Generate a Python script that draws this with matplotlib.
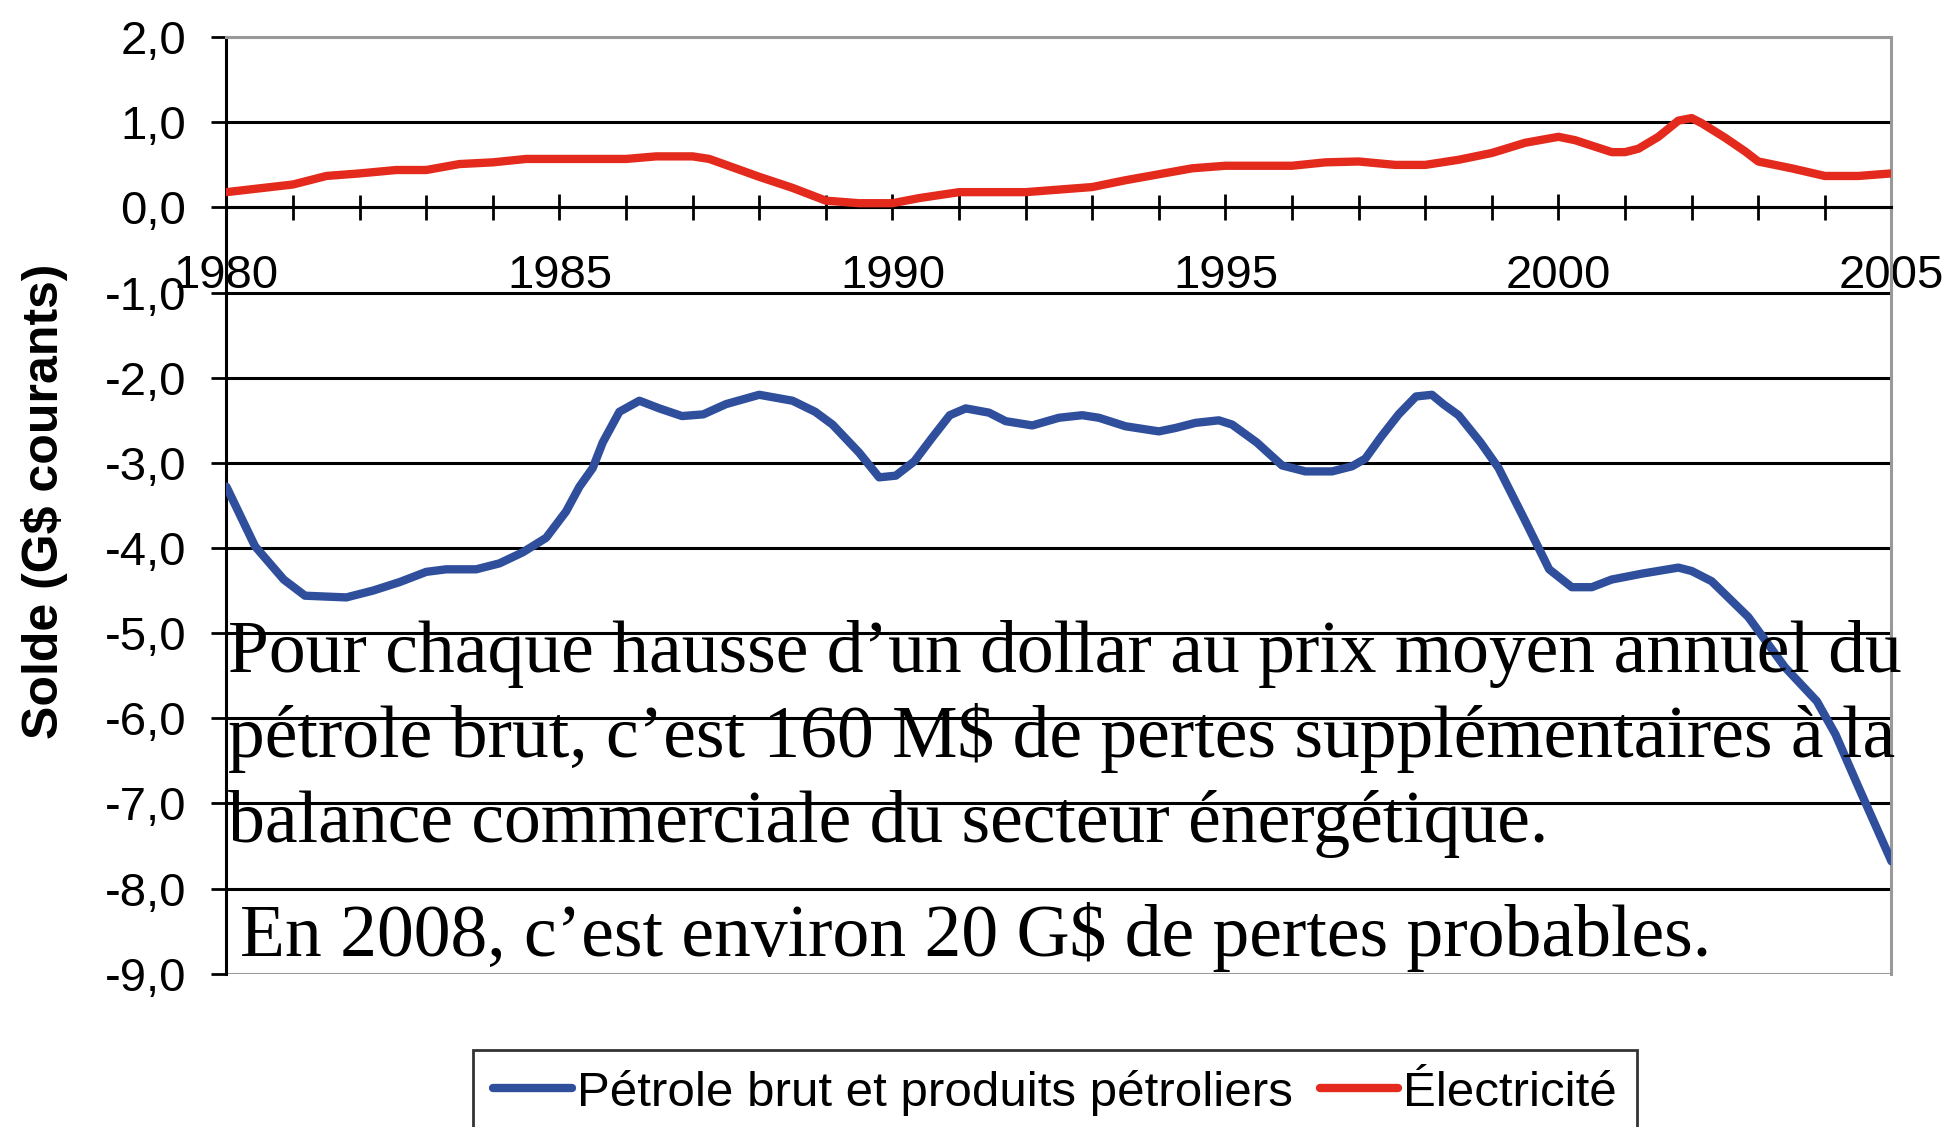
import numpy as np
import matplotlib
matplotlib.use('Agg')
import matplotlib.pyplot as plt
from matplotlib.ticker import MultipleLocator, FuncFormatter

# Solde commercial (G$ courants)
annees_petrole = [1980.0, 1980.43, 1980.86, 1981.18, 1981.8, 1982.2, 1982.6, 1983.0, 1983.3,
                  1983.75, 1984.1, 1984.45, 1984.8, 1985.1, 1985.3, 1985.5, 1985.65, 1985.9,
                  1986.2, 1986.5, 1986.84, 1987.16, 1987.5, 1988.0, 1988.5, 1988.84, 1989.1,
                  1989.5, 1989.8, 1990.05, 1990.33, 1990.6, 1990.86, 1991.1, 1991.45, 1991.7,
                  1992.1, 1992.5, 1992.85, 1993.1, 1993.5, 1994.0, 1994.25, 1994.55, 1994.9,
                  1995.1, 1995.47, 1995.85, 1996.2, 1996.6, 1996.9, 1997.1, 1997.34, 1997.6,
                  1997.86, 1998.1, 1998.27, 1998.5, 1998.83, 1999.1, 1999.5, 1999.86, 2000.2,
                  2000.5, 2000.8, 2001.26, 2001.8, 2002.0, 2002.3, 2002.85, 2003.4, 2003.88,
                  2004.16, 2004.5, 2005.0]
petrole = [-3.28, -3.98, -4.37, -4.56, -4.58, -4.50, -4.40, -4.28, -4.25,
           -4.25, -4.18, -4.05, -3.88, -3.57, -3.28, -3.06, -2.76, -2.40,
           -2.27, -2.36, -2.45, -2.43, -2.31, -2.20, -2.27, -2.40, -2.55,
           -2.88, -3.17, -3.15, -2.98, -2.70, -2.44, -2.36, -2.41, -2.51,
           -2.56, -2.47, -2.44, -2.47, -2.57, -2.63, -2.59, -2.53, -2.50,
           -2.55, -2.76, -3.03, -3.10, -3.10, -3.04, -2.95, -2.69, -2.43,
           -2.22, -2.20, -2.31, -2.44, -2.76, -3.06, -3.68, -4.25, -4.46,
           -4.46, -4.37, -4.30, -4.23, -4.27, -4.39, -4.81, -5.40, -5.80,
           -6.19, -6.80, -7.68]

annees_elec = [1980.0, 1981.0, 1981.5, 1982.0, 1982.55, 1983.0, 1983.5, 1984.0, 1984.5,
               1985.0, 1986.0, 1986.45, 1987.0, 1987.25, 1988.0, 1988.5, 1989.0, 1989.5,
               1990.0, 1990.4, 1991.0, 1992.0, 1993.0, 1993.5, 1994.0, 1994.5, 1995.0,
               1996.0, 1996.5, 1997.0, 1997.55, 1998.0, 1998.5, 1999.0, 1999.5, 2000.0,
               2000.25, 2000.8, 2001.0, 2001.2, 2001.5, 2001.8, 2002.0, 2002.15, 2002.5,
               2002.8, 2003.0, 2003.5, 2004.0, 2004.5, 2005.0]
electricite = [0.18, 0.27, 0.37, 0.40, 0.44, 0.44, 0.51, 0.53, 0.57,
               0.57, 0.57, 0.60, 0.60, 0.57, 0.36, 0.23, 0.08, 0.05,
               0.05, 0.11, 0.18, 0.18, 0.24, 0.32, 0.39, 0.46, 0.49,
               0.49, 0.53, 0.54, 0.50, 0.50, 0.56, 0.64, 0.76, 0.83,
               0.79, 0.65, 0.65, 0.69, 0.83, 1.02, 1.05, 0.99, 0.82,
               0.66, 0.54, 0.46, 0.37, 0.37, 0.40]

graduations_y = [2, 1, 0, -1, -2, -3, -4, -5, -6, -7, -8, -9]

texte_1 = ["Pour chaque hausse d\u2019un dollar au prix moyen annuel du",
           "p\u00e9trole brut, c\u2019est 160 M$ de pertes suppl\u00e9mentaires \u00e0 la",
           "balance commerciale du secteur \u00e9nerg\u00e9tique."]
texte_2 = "En 2008, c\u2019est environ 20 G$ de pertes probables."

sans = ['Liberation Sans', 'DejaVu Sans']
serif = ['Liberation Serif', 'DejaVu Serif']

fig = plt.figure(figsize=(19.52, 11.27), dpi=100)
ax = fig.add_axes([0.116, 0.136, 0.853, 0.831])

for v in graduations_y:
    couleur = '#999999' if v in (2, -9) else 'black'
    ax.axhline(v, color=couleur, lw=2.2, zorder=1)

ax.plot(annees_petrole, petrole, color='#2F4F9C', lw=6, zorder=3,
        solid_joinstyle='round', solid_capstyle='round',
        label='P\u00e9trole brut et produits p\u00e9troliers')
ax.plot(annees_elec, electricite, color='#E32A1C', lw=6, zorder=3,
        solid_joinstyle='round', solid_capstyle='round',
        label='\u00c9lectricit\u00e9')

ax.set_xlim(1980, 2005)
ax.set_ylim(-9, 2)

ax.spines['bottom'].set_position(('data', 0))
ax.spines['bottom'].set_linewidth(2.2)
ax.spines['left'].set_linewidth(2.2)
ax.spines['top'].set_color('#999999')
ax.spines['top'].set_linewidth(2.2)
ax.spines['right'].set_color('#999999')
ax.spines['right'].set_linewidth(2.2)

ax.xaxis.set_major_locator(MultipleLocator(5))
ax.xaxis.set_minor_locator(MultipleLocator(1))
ax.xaxis.set_major_formatter(FuncFormatter(lambda v, p: f"{int(round(v))}"))
ax.tick_params(axis='x', which='both', direction='inout', length=19, width=2,
               pad=24, labelsize=34)
ax.tick_params(axis='x', which='minor', length=18)

ax.set_yticks(graduations_y)
ax.yaxis.set_major_formatter(FuncFormatter(lambda v, p: f"{v:.1f}".replace('.', ',')))
ax.tick_params(axis='y', direction='out', length=11, width=2, pad=18, labelsize=34)

for lab in ax.get_xticklabels() + ax.get_yticklabels():
    lab.set_family(sans)

fig.text(0.023, 0.555, 'Solde (G$ courants)', rotation=90, ha='center', va='center',
         fontsize=36, fontweight='bold', family=sans)

bases = [1 - 672 / 1127, 1 - 757 / 1127, 1 - 842 / 1127]
for ligne, yb in zip(texte_1, bases):
    fig.text(228 / 1952, yb, ligne, ha='left', va='baseline', fontsize=53,
             family=serif, zorder=4)
fig.text(240 / 1952, 1 - 956 / 1127, texte_2, ha='left', va='baseline', fontsize=53,
         family=serif, zorder=4)

leg = fig.legend(loc='upper left', bbox_to_anchor=(473 / 1952, 1 - 1050 / 1127),
                 ncol=2, frameon=True, fancybox=False, handlelength=1.6,
                 handletextpad=0.1, columnspacing=0.55, borderpad=0.4,
                 borderaxespad=0, prop={'family': sans, 'size': 35.5})
leg.get_frame().set_edgecolor('black')
leg.get_frame().set_linewidth(2)

fig.savefig('out.png', dpi=100)
